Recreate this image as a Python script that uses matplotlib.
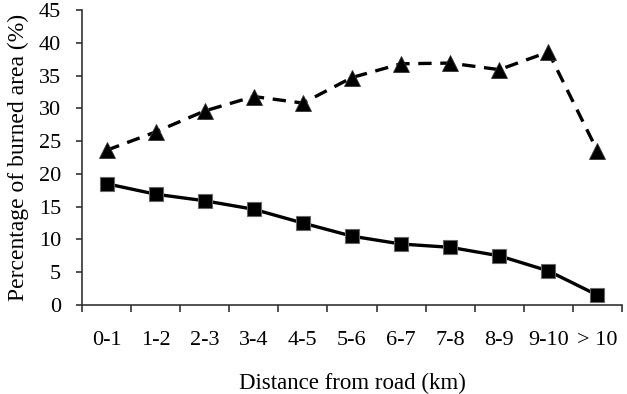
# Burned area percentage vs distance from road
from matplotlib import pyplot as plt
import numpy as np

plt.rcParams['font.family'] = ['Liberation Serif', 'DejaVu Serif']

categories = ['0-1', '1-2', '2-3', '3-4', '4-5', '5-6', '6-7', '7-8', '8-9', '9-10', '> 10']
triangle_values = [23.6, 26.4, 29.6, 31.8, 30.8, 34.7, 36.8, 36.9, 35.9, 38.6, 23.5]
square_values = [18.5, 16.9, 15.9, 14.6, 12.5, 10.5, 9.3, 8.8, 7.5, 5.2, 1.5]


def main():
    fig = plt.figure(figsize=(6.27, 3.94), dpi=100)
    ax = fig.add_axes([82 / 627, 1 - 305 / 394, 540 / 627, 295 / 394])

    x = np.arange(len(categories))
    ax.plot(x, triangle_values, color='black', linewidth=2.4, linestyle=(0, (4, 2.6)),
            marker='^', markersize=11, markeredgecolor='#333333', markeredgewidth=0.6)
    ax.plot(x, square_values, color='black', linewidth=2.4,
            marker='s', markersize=10, markeredgecolor='#666666', markeredgewidth=0.8)

    ax.set_xlim(-0.5, len(categories) - 0.5)
    ax.set_ylim(0, 45)
    ax.set_yticks(np.arange(0, 46, 5))

    # ticks sit between categories, labels centred on them
    ax.set_xticks(np.arange(-0.5, len(categories), 1))
    ax.set_xticklabels([])
    ax.set_xticks(x, minor=True)
    ax.set_xticklabels(categories, minor=True)
    ax.tick_params(axis='x', which='minor', length=0, pad=19, labelsize=16)
    ax.tick_params(axis='x', which='major', length=5, width=1.2, direction='out', color='#333333')
    ax.tick_params(axis='y', length=4, width=1.2, direction='out', labelsize=16, pad=11,
                   color='#333333')

    for side in ['top', 'right']:
        ax.spines[side].set_visible(False)
    for side in ['left', 'bottom']:
        ax.spines[side].set_linewidth(1.2)
        ax.spines[side].set_color('#333333')

    ax.set_xlabel('Distance from road (km)', fontsize=16.5, labelpad=16)
    ax.set_ylabel('Percentage of burned area (%)', fontsize=17, labelpad=7)

    fig.savefig('out.png', dpi=100)
    plt.close(fig)


if __name__ == '__main__':
    main()
